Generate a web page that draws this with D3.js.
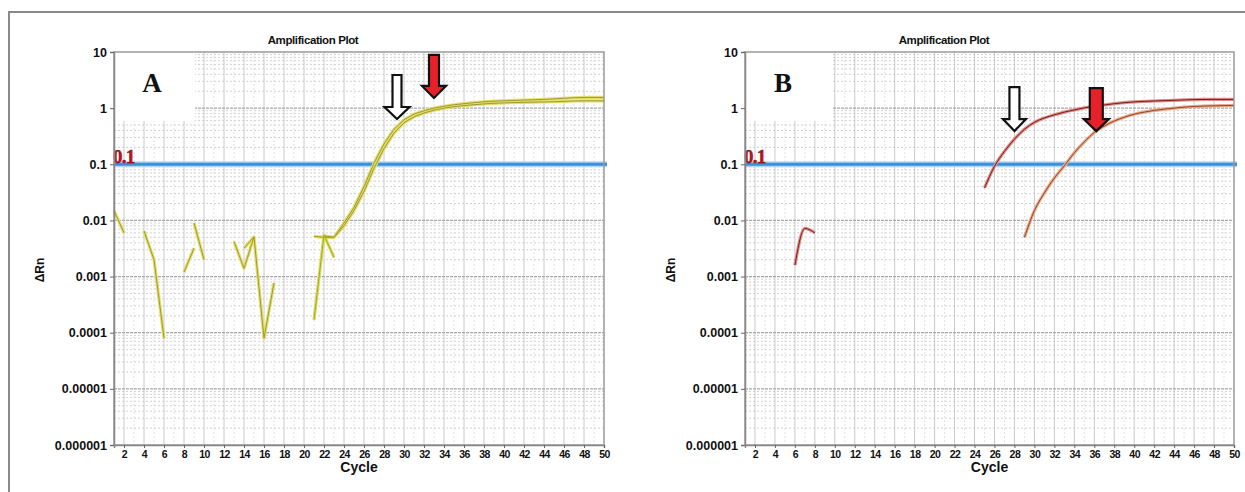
<!DOCTYPE html>
<html lang="en">
<head>
<meta charset="UTF-8">
<title>Amplification Plot</title>
<script src="https://d3js.org/d3.v7.min.js"></script>
<style>
    body { margin: 0; background: #fff; }
    svg { display: block; }
    .tick text { font-family: "Liberation Sans", Arial, sans-serif; font-weight: bold; fill: #111; }
</style>
</head>
<body>
<div id="chart"></div>
<script>
    // cycle numbers 1..50
    var cycles = d3.range(1, 51);
    var xTickValues = d3.range(2, 51, 2);
    var yTickValues = [10, 1, 0.1, 0.01, 0.001, 0.0001, 0.00001, 0.000001];
    var yTickLabels = ["10", "1", "0.1", "0.01", "0.001", "0.0001", "0.00001", "0.000001"];
    var threshold = 0.1;

    // panel A wells (delta Rn per cycle, null = not plotted)
    var wellA1 = [0.015, 0.006, null, 0.0065, 0.002, 0.00008, null, 0.0012, 0.0032, null,
        null, null, 0.0042, 0.0014, 0.0051, 0.00008, 0.00077, null, null, null,
        0.0052, 0.0050, 0.0050, 0.009, 0.017, 0.04, 0.105, 0.23, 0.42, 0.62,
        0.78, 0.9, 1.0, 1.08, 1.15, 1.2, 1.25, 1.3, 1.33, 1.35,
        1.37, 1.39, 1.41, 1.43, 1.46, 1.5, 1.53, 1.55, 1.55, 1.55];
    var wellA2 = [null, null, null, null, null, null, null, null, 0.009, 0.002,
        null, null, null, 0.0032, 0.0051, null, null, null, null, null,
        null, 0.0053, 0.0050, 0.008, 0.015, 0.033, 0.085, 0.19, 0.36, 0.55,
        0.7, 0.82, 0.92, 1.0, 1.06, 1.11, 1.15, 1.19, 1.22, 1.24,
        1.26, 1.27, 1.28, 1.29, 1.3, 1.32, 1.34, 1.35, 1.35, 1.35];
    var wellA3 = [null, null, null, null, null, null, null, null, null, null,
        null, null, null, null, null, null, null, null, null, null,
        0.00017, 0.0055, 0.0022, null, null, null, null, null, null, null,
        null, null, null, null, null, null, null, null, null, null,
        null, null, null, null, null, null, null, null, null, null];

    // panel B wells
    var wellB1 = [null, null, null, null, null, 0.0016, 0.0072, 0.006, null, null,
        null, null, null, null, null, null, null, null, null, null,
        null, null, null, null, 0.038, 0.092, 0.17, 0.28, 0.42, 0.56,
        0.67, 0.76, 0.85, 0.93, 1.01, 1.08, 1.14, 1.2, 1.25, 1.29,
        1.32, 1.34, 1.36, 1.38, 1.4, 1.42, 1.43, 1.43, 1.43, 1.43];
    var wellB2 = [null, null, null, null, null, null, null, null, null, null,
        null, null, null, null, null, null, null, null, null, null,
        null, null, null, null, null, null, null, null, 0.005, 0.015,
        0.031, 0.057, 0.094, 0.16, 0.25, 0.37, 0.48, 0.59, 0.69, 0.78,
        0.85, 0.91, 0.96, 1.0, 1.04, 1.07, 1.09, 1.1, 1.11, 1.12];

    // arrow annotations: tip position in data units
    var arrowsA = [
        { cycle: 29.3, value: 0.64, fill: "#ffffff", shaft: 9, head: 25, len: 44 },
        { cycle: 33.0, value: 1.52, fill: "#e8202a", shaft: 10, head: 24, len: 43 }
    ];
    var arrowsB = [
        { cycle: 28.0, value: 0.39, fill: "#ffffff", shaft: 10, head: 23, len: 44 },
        { cycle: 36.2, value: 0.39, fill: "#e8202a", shaft: 13, head: 25, len: 43 }
    ];

    var svg = d3.select("#chart").append("svg")
        .attr("width", 1245)
        .attr("height", 492);

    // outer frame (top and left edges visible)
    svg.append("path")
        .attr("d", "M9,492 L9,12 L1245,12")
        .attr("fill", "none")
        .attr("stroke", "#8a8a8a")
        .attr("stroke-width", 2);

    var panels = [
        { left: 114, right: 604, letter: "A", boxW: 81, smooth: false, wells: [
            { data: wellA1, halo: "#e2de6a", core: "#a09a34" },
            { data: wellA2, halo: "#e2de6a", core: "#a09a34" },
            { data: wellA3, halo: "#d8e05a", core: "#a6a632" }], arrows: arrowsA },
        { left: 745, right: 1234, letter: "B", boxW: 87, smooth: true, wells: [
            { data: wellB1, halo: "#dc8e88", core: "#7e1a1a" },
            { data: wellB2, halo: "#e6aa8a", core: "#9a4426" }], arrows: arrowsB }
    ];

    var plotTop = 52, plotBottom = 445;

    panels.forEach(function(p) {
        var x = d3.scaleLinear().domain([1, 50]).range([p.left, p.right]);
        var y = d3.scaleLog().domain([0.000001, 10]).range([plotBottom, plotTop]);
        var g = svg.append("g");

        // minor horizontal grid
        var minor = [];
        for (var k = -6; k < 1; k++) {
            for (var m = 2; m < 10; m++) minor.push(m * Math.pow(10, k));
        }
        g.selectAll(".hminor").data(minor).enter().append("line")
            .attr("x1", p.left).attr("x2", p.right)
            .attr("y1", function(d) { return y(d); })
            .attr("y2", function(d) { return y(d); })
            .attr("stroke", "#d2d2d2")
            .attr("stroke-dasharray", "2,2");

        // vertical grid
        g.selectAll(".vgrid").data(cycles.filter(function(c) { return c > 1 && c < 50; })).enter().append("line")
            .attr("x1", function(d) { return x(d); })
            .attr("x2", function(d) { return x(d); })
            .attr("y1", plotTop).attr("y2", plotBottom)
            .attr("stroke", function(d) { return d % 2 === 0 ? "#cacaca" : "#e2e2e2"; })
            .attr("stroke-dasharray", function(d) { return d % 2 === 0 ? null : "2,2"; });

        // decade lines
        g.selectAll(".hmajor").data(yTickValues.slice(1, -1)).enter().append("line")
            .attr("x1", p.left).attr("x2", p.right)
            .attr("y1", function(d) { return y(d); })
            .attr("y2", function(d) { return y(d); })
            .attr("stroke", "#a8a8a8")
            .attr("stroke-width", 1.2)
            .attr("stroke-dasharray", "3,1");

        // white box behind panel letter
        g.append("rect")
            .attr("x", p.left).attr("y", plotTop)
            .attr("width", p.boxW).attr("height", 69)
            .attr("fill", "#fff");
        g.append("text")
            .attr("x", p.left + 38).attr("y", 92)
            .attr("text-anchor", "middle")
            .style("font-family", "Liberation Serif, Times New Roman, serif")
            .style("font-weight", "bold")
            .style("font-size", "27px")
            .attr("fill", "#111")
            .text(p.letter);

        // threshold
        g.append("line")
            .attr("x1", p.left).attr("x2", p.right + 3)
            .attr("y1", y(threshold)).attr("y2", y(threshold))
            .attr("stroke", "#b2d6f4").attr("stroke-width", 6);
        g.append("line")
            .attr("x1", p.left).attr("x2", p.right + 3)
            .attr("y1", y(threshold)).attr("y2", y(threshold))
            .attr("stroke", "#3d8fdc").attr("stroke-width", 3);
        g.append("text")
            .attr("x", p.left - 1).attr("y", y(threshold) - 1)
            .style("font-family", "Liberation Serif, Times New Roman, serif")
            .style("font-weight", "bold")
            .style("font-size", "19px")
            .style("letter-spacing", "-0.8px")
            .attr("fill", "#c4121a")
            .attr("stroke", "#5a0a0a")
            .attr("stroke-width", 0.4)
            .text("0.1");

        // amplification curves
        var line = d3.line()
            .defined(function(d) { return d !== null; })
            .x(function(d, i) { return x(cycles[i]); })
            .y(function(d) { return y(d); })
            .curve(p.smooth ? d3.curveMonotoneX : d3.curveLinear);

        p.wells.forEach(function(w) {
            g.append("path").datum(w.data)
                .attr("d", line)
                .attr("fill", "none")
                .attr("stroke", w.halo)
                .attr("stroke-width", 3.2)
                .attr("stroke-linejoin", "round");
        });
        p.wells.forEach(function(w) {
            g.append("path").datum(w.data)
                .attr("d", line)
                .attr("fill", "none")
                .attr("stroke", w.core)
                .attr("stroke-width", 1)
                .attr("stroke-linejoin", "round");
        });

        // arrows
        p.arrows.forEach(function(a) {
            var tx = x(a.cycle), ty = y(a.value);
            var sw = a.shaft / 2, hw = a.head / 2, hl = 12;
            var d = "M" + tx + "," + ty +
                " L" + (tx - hw) + "," + (ty - hl) +
                " L" + (tx - sw) + "," + (ty - hl) +
                " L" + (tx - sw) + "," + (ty - a.len) +
                " L" + (tx + sw) + "," + (ty - a.len) +
                " L" + (tx + sw) + "," + (ty - hl) +
                " L" + (tx + hw) + "," + (ty - hl) + " Z";
            g.append("path")
                .attr("d", d)
                .attr("fill", a.fill)
                .attr("stroke", "#111")
                .attr("stroke-width", 2.2)
                .attr("stroke-linejoin", "miter");
        });

        // plot frame
        g.append("rect")
            .attr("x", p.left).attr("y", plotTop)
            .attr("width", p.right - p.left).attr("height", plotBottom - plotTop)
            .attr("fill", "none")
            .attr("stroke", "#9a9a9a")
            .attr("stroke-width", 1.5);

        // axes
        var yAxis = g.append("g")
            .attr("transform", "translate(" + p.left + ",0)")
            .call(d3.axisLeft(y).tickValues(yTickValues)
                .tickFormat(function(d, i) { return yTickLabels[i]; })
                .tickSize(4).tickPadding(3));
        yAxis.selectAll("text").style("font-size", "12.5px");

        var xAxis = g.append("g")
            .attr("transform", "translate(0," + plotBottom + ")")
            .call(d3.axisBottom(x).tickValues(xTickValues).tickSize(3).tickPadding(3));
        xAxis.selectAll("text").style("font-size", "10.5px").style("letter-spacing", "-0.5px");

        [yAxis, xAxis].forEach(function(ax) {
            ax.select(".domain").attr("stroke", "#888").attr("stroke-width", 1.5);
            ax.selectAll(".tick line").attr("stroke", "#666");
        });

        // titles
        g.append("text")
            .attr("x", p.left + 199).attr("y", 44)
            .attr("text-anchor", "middle")
            .style("font-family", "Liberation Sans, Arial, sans-serif")
            .style("font-weight", "bold")
            .style("font-size", "11.5px")
            .style("letter-spacing", "-0.4px")
            .attr("fill", "#111")
            .text("Amplification Plot");

        g.append("text")
            .attr("x", (p.left + p.right) / 2).attr("y", 472)
            .attr("text-anchor", "middle")
            .style("font-family", "Liberation Sans, Arial, sans-serif")
            .style("font-weight", "bold")
            .style("font-size", "14px")
            .attr("fill", "#111")
            .text("Cycle");

        g.append("text")
            .attr("transform", "translate(" + (p.left - 70) + ",270) rotate(-90)")
            .attr("text-anchor", "middle")
            .style("font-family", "Liberation Sans, Arial, sans-serif")
            .style("font-weight", "bold")
            .style("font-size", "12px")
            .attr("fill", "#111")
            .text("ΔRn");
    });
</script>
</body>
</html>
